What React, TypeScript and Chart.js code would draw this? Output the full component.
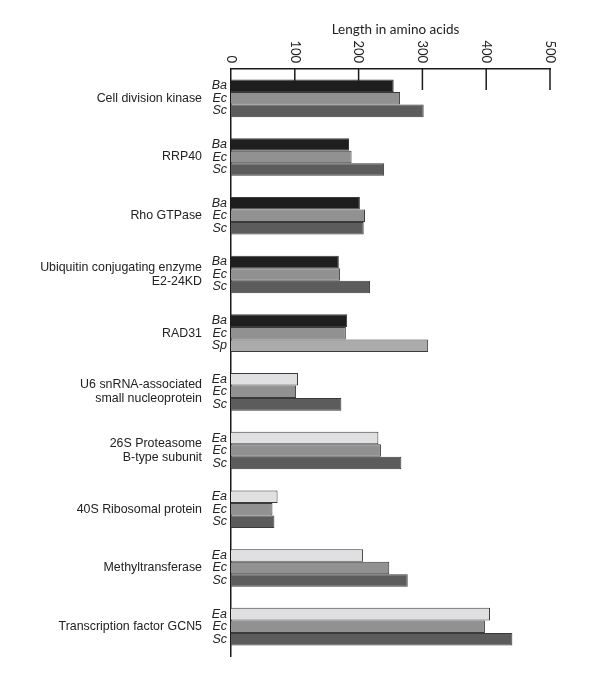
import React, { useEffect, useRef } from "react";
import { Chart, registerables } from "chart.js";

Chart.register(...registerables);

const categories: (string | string[])[] = [
  "Cell division kinase",
  "RRP40",
  "Rho GTPase",
  ["Ubiquitin conjugating enzyme", "E2-24KD"],
  "RAD31",
  ["U6 snRNA-associated", "small nucleoprotein"],
  ["26S Proteasome", "B-type subunit"],
  "40S Ribosomal protein",
  "Methyltransferase",
  "Transcription factor GCN5",
];

const topSpecies = ["Ba", "Ba", "Ba", "Ba", "Ba", "Ea", "Ea", "Ea", "Ea", "Ea"];
const midSpecies = ["Ec", "Ec", "Ec", "Ec", "Ec", "Ec", "Ec", "Ec", "Ec", "Ec"];
const botSpecies = ["Sc", "Sc", "Sc", "Sc", "Sp", "Sc", "Sc", "Sc", "Sc", "Sc"];

const topValues = [255, 185, 202, 169, 182, 105, 231, 73, 207, 406];
const midValues = [265, 189, 210, 171, 180, 102, 235, 65, 248, 398];
const botValues = [302, 240, 208, 218, 309, 173, 267, 68, 277, 441];

const xTicks = [0, 100, 200, 300, 400, 500];
const xTitle = "Length in amino acids";

const speciesColors: Record<string, string> = {
  Ba: "#1e1e1e",
  Ec: "#919191",
  Sc: "#5c5c5c",
  Sp: "#ababab",
  Ea: "#e0e0e2",
};

const FONT = "'Liberation Sans', Arial, Helvetica, sans-serif";
const AXFONT = "Lato, 'Open Sans', sans-serif";

export default function App() {
  const ref = useRef<HTMLCanvasElement>(null);

  useEffect(() => {
    if (!ref.current) return;
    const speciesRows = [topSpecies, midSpecies, botSpecies];

    const overlay = {
      id: "overlay",
      beforeDatasetsDraw(chart: any) {
        const ctx = chart.ctx;
        const xs = chart.scales.x;
        const area = chart.chartArea;
        ctx.save();
        ctx.strokeStyle = "#1a1a1a";
        ctx.lineWidth = 1.5;
        xTicks.forEach((v) => {
          if (v === 0) return;
          const x = xs.getPixelForValue(v);
          ctx.beginPath();
          ctx.moveTo(x, area.top);
          ctx.lineTo(x, area.top + 21);
          ctx.stroke();
        });
        ctx.restore();
      },
      afterDatasetsDraw(chart: any) {
        const ctx = chart.ctx;
        const xs = chart.scales.x;
        const area = chart.chartArea;
        ctx.save();
        // species labels
        ctx.font = `italic 12.5px ${FONT}`;
        ctx.fillStyle = "#222";
        ctx.textAlign = "right";
        ctx.textBaseline = "middle";
        chart.data.datasets.forEach((ds: any, di: number) => {
          const meta = chart.getDatasetMeta(di);
          meta.data.forEach((el: any, i: number) => {
            ctx.fillText(speciesRows[di][i], area.left - 4, el.y);
          });
        });
        // rotated tick labels
        ctx.font = `13px ${AXFONT}`;
        xTicks.forEach((v) => {
          const x = xs.getPixelForValue(v);
          ctx.save();
          ctx.translate(x, area.top - 6);
          ctx.rotate(Math.PI / 2);
          ctx.textAlign = "right";
          ctx.textBaseline = "middle";
          ctx.fillText(String(v), 0, 0);
          ctx.restore();
        });
        // axis title
        ctx.font = `13.5px ${AXFONT}`;
        ctx.textAlign = "center";
        ctx.textBaseline = "middle";
        ctx.fillText(xTitle, (xs.left + xs.right) / 2 + 5, 30);
        ctx.restore();
      },
    };

    const mk = (vals: number[], sp: string[]) => ({
      data: vals,
      backgroundColor: sp.map((s) => speciesColors[s]),
      borderColor: "#3a3a3a",
      borderWidth: 1,
      categoryPercentage: 0.64,
      barPercentage: 1,
    });

    const chart = new Chart(ref.current, {
      type: "bar",
      data: {
        labels: categories as any,
        datasets: [mk(topValues, topSpecies), mk(midValues, midSpecies), mk(botValues, botSpecies)],
      },
      options: {
        indexAxis: "y",
        animation: false,
        responsive: false,
        layout: { padding: { left: 0, right: 50, top: 0, bottom: 44 } },
        plugins: { legend: { display: false }, tooltip: { enabled: false } },
        scales: {
          x: {
            position: "top",
            min: 0,
            max: 500,
            afterFit: (s: any) => {
              s.height = 69;
            },
            ticks: { display: false, stepSize: 100 },
            grid: { display: false },
            border: { display: true, color: "#1a1a1a", width: 1.5 },
          },
          y: {
            afterFit: (s: any) => {
              s.width = 231;
            },
            grid: { display: false },
            border: { display: true, color: "#1a1a1a", width: 1.5 },
            ticks: {
              color: "#222",
              padding: 21,
              font: { family: FONT, size: 12.4, lineHeight: 1.15 },
            },
          },
        },
      },
      plugins: [overlay],
    } as any);

    return () => chart.destroy();
  }, []);

  return (
    <div style={{ position: "absolute", left: 0, top: 0, width: 600, height: 700, background: "#fff" }}>
      <canvas ref={ref} width={600} height={700} />
    </div>
  );
}
